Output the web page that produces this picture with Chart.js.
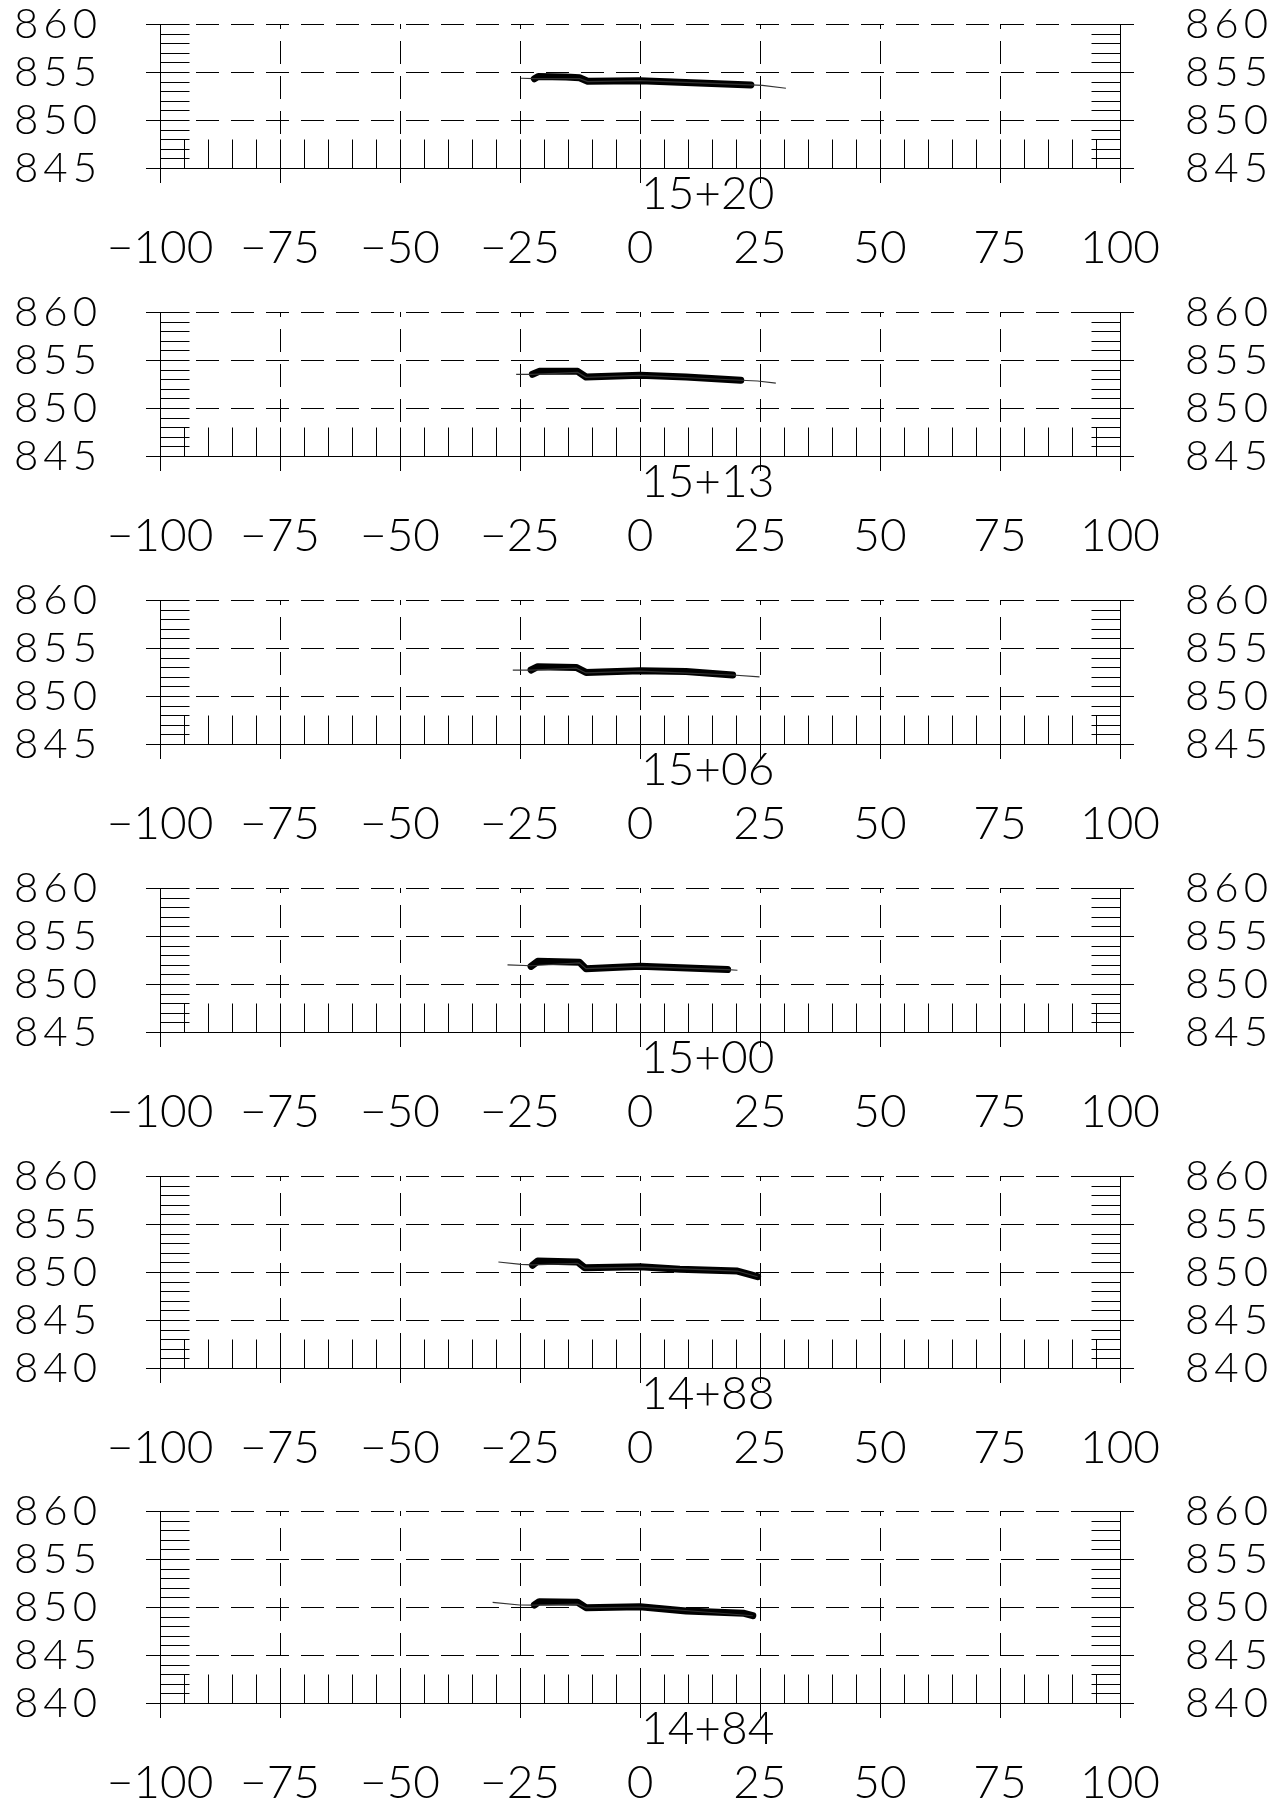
<!DOCTYPE html>
<html>
<head>
<meta charset="utf-8">
<script src="https://cdn.jsdelivr.net/npm/chart.js@4.4.1/dist/chart.umd.min.js"></script>
<style>
  html, body { margin: 0; padding: 0; background: #fff; }
  body { width: 1267px; height: 1813px; position: relative; overflow: hidden; }
  canvas { position: absolute; left: 0; }
</style>
</head>
<body>
<script>
// cross sections, offset (x) vs elevation (y)
const stations = ['15+20', '15+13', '15+06', '15+00', '14+88', '14+84'];
const elevMin = [845, 845, 845, 845, 840, 840];
const elevMax = 860;

// design surface (thick line)
const off1520 = [-22.0, -21.2, -15.4, -12.6, -10.9, 0, 23.1];
const des1520 = [854.3, 854.53, 854.47, 854.4, 854.03, 854.1, 853.65];
const off1513 = [-22.4, -21.0, -13.0, -11.25, 0, 9.6, 21.0];
const des1513 = [853.51, 853.82, 853.82, 853.23, 853.41, 853.23, 852.89];
const off1506 = [-22.7, -21.3, -13.3, -11.25, 0, 9.6, 19.3];
const des1506 = [852.71, 853.05, 852.98, 852.46, 852.64, 852.56, 852.19];
const off1500 = [-22.7, -21.3, -12.6, -11.25, 0, 18.25];
const des1500 = [851.84, 852.36, 852.26, 851.6, 851.84, 851.5];
const off1488 = [-22.4, -21.3, -13.0, -11.5, 0, 8.3, 20.3, 24.5];
const des1488 = [850.7, 851.15, 851.04, 850.45, 850.55, 850.28, 850.1, 849.51];
const off1484 = [-22.0, -21.0, -13.0, -11.25, 0, 9.6, 21.7, 23.5];
const des1484 = [850.21, 850.55, 850.49, 849.93, 850.03, 849.58, 849.34, 849.09];

// existing ground (thin line)
const gOff1520 = [-24.8, -22, -12.6, -10.9, 0, 23.1, 25.5, 30.4];
const gnd1520 = [854.35, 854.3, 854.3, 854.0, 854.1, 853.66, 853.6, 853.31];
const gOff1513 = [-25.8, -22.4, -13, -11.25, 0, 21.0, 24.5, 28.3];
const gnd1513 = [853.5, 853.5, 853.7, 853.2, 853.4, 852.89, 852.81, 852.6];
const gOff1506 = [-26.5, -22.7, -13.3, -11.25, 0, 19.3, 24.9];
const gnd1506 = [852.7, 852.7, 852.9, 852.4, 852.6, 852.19, 852.0];
const gOff1500 = [-27.6, -22.7, -12.6, -11.25, 0, 18.25, 20.3];
const gnd1500 = [852.0, 851.9, 852.2, 851.6, 851.8, 851.5, 851.43];
const gOff1488 = [-29.5, -24.8, -22.4, -13, -11.5, 0, 20.3, 24.5];
const gnd1488 = [851.04, 850.8, 850.75, 850.9, 850.4, 850.5, 850.1, 849.51];
const gOff1484 = [-30.7, -25.1, -22, -13, -11.25, 0, 23.5];
const gnd1484 = [850.49, 850.21, 850.2, 850.3, 849.9, 850.0, 849.09];

const designX = [off1520, off1513, off1506, off1500, off1488, off1484];
const designY = [des1520, des1513, des1506, des1500, des1488, des1484];
const groundX = [gOff1520, gOff1513, gOff1506, gOff1500, gOff1488, gOff1484];
const groundY = [gnd1520, gnd1513, gnd1506, gnd1500, gnd1488, gnd1484];

const canvasTop = [0, 288, 576, 864, 1152, 1487];
const canvasH = [288, 288, 288, 288, 336, 326];
const PAD_TOP = 24;
const UNIT_Y = 9.6;

const FONT = 'Lato';
const xFont = { family: FONT, size: 46, weight: 300 };
const yFont = { family: FONT, size: 42, weight: 300 };

// elevation axis with the wide CAD letter spacing
class SpacedLinearScale extends Chart.LinearScale {
  drawLabels(area) {
    this.ctx.save();
    this.ctx.letterSpacing = '5px';
    super.drawLabels(area);
    this.ctx.restore();
  }
}
SpacedLinearScale.id = 'spacedLinear';
SpacedLinearScale.defaults = Chart.LinearScale.defaults;
Chart.register(SpacedLinearScale);

function pts(xs, ys) {
  return xs.map((x, i) => ({ x: x, y: ys[i] }));
}

function fmtMinus(v) {
  return v < 0 ? '\u2212' + Math.abs(v) : String(v);
}

// CAD style combs along the frame + station name
const cadFrame = {
  id: 'cadFrame',
  beforeDatasetsDraw(chart) {
    const ctx = chart.ctx;
    const xs = chart.scales.x, ys = chart.scales.y;
    const lo = ys.min, hi = ys.max;
    const px = v => Math.round(xs.getPixelForValue(v)) + 0.5;
    const py = v => Math.round(ys.getPixelForValue(v)) + 0.5;
    ctx.save();
    ctx.strokeStyle = '#000';
    ctx.lineWidth = 1;
    ctx.beginPath();
    for (let e = lo; e <= hi; e++) {
      ctx.moveTo(px(-100), py(e)); ctx.lineTo(px(-94), py(e));
      ctx.moveTo(px(94), py(e)); ctx.lineTo(px(100), py(e));
    }
    for (let o = -100; o <= 100; o += 5) {
      ctx.moveTo(px(o), py(lo)); ctx.lineTo(px(o), py(lo + 3));
    }
    ctx.stroke();
    ctx.restore();
  },
  afterDraw(chart, args, opts) {
    const ctx = chart.ctx;
    const xs = chart.scales.x;
    ctx.save();
    ctx.fillStyle = '#000';
    ctx.font = xFont.weight + ' ' + xFont.size + 'px ' + FONT;
    ctx.textAlign = 'left';
    ctx.textBaseline = 'alphabetic';
    ctx.fillText(opts.station, xs.getPixelForValue(0) + 1, chart.chartArea.bottom + 41);
    ctx.restore();
  }
};

stations.forEach((st, i) => {
  const cv = document.createElement('canvas');
  cv.width = 1267;
  cv.height = canvasH[i];
  cv.style.top = canvasTop[i] + 'px';
  document.body.appendChild(cv);

  const areaH = (elevMax - elevMin[i]) * UNIT_Y;
  const xAxisH = canvasH[i] - PAD_TOP - areaH;

  const yAxis = (pos, width, grid) => ({
    type: 'spacedLinear',
    position: pos,
    min: elevMin[i],
    max: elevMax,
    ticks: { stepSize: 5, autoSkip: false, color: '#000', font: yFont, padding: pos === 'left' ? 44 : 51 },
    grid: Object.assign({ color: '#000', lineWidth: 1, tickLength: 14, tickColor: '#000' }, grid),
    border: { display: true, color: '#000', width: 1, dash: [23, 12] },
    afterFit(s) {
      s.width = width;
      s.paddingTop = 0;
      s.paddingBottom = 0;
    }
  });

  new Chart(cv, {
    type: 'scatter',
    data: {
      datasets: [
        {
          label: 'existing',
          data: pts(groundX[i], groundY[i]),
          showLine: true,
          borderColor: '#333',
          borderWidth: 1.2,
          pointRadius: 0,
          tension: 0
        },
        {
          label: 'design',
          data: pts(designX[i], designY[i]),
          showLine: true,
          borderColor: '#000',
          borderWidth: 7,
          borderCapStyle: 'round',
          borderJoinStyle: 'round',
          pointRadius: 0,
          tension: 0
        }
      ]
    },
    options: {
      responsive: false,
      animation: false,
      events: [],
      layout: { padding: { top: PAD_TOP, left: 0, right: 0, bottom: 0 } },
      plugins: {
        legend: { display: false },
        tooltip: { enabled: false },
        cadFrame: { station: st }
      },
      scales: {
        x: {
          type: 'linear',
          position: 'bottom',
          min: -100,
          max: 100,
          ticks: { stepSize: 25, autoSkip: false, maxRotation: 0, color: '#000', font: xFont, padding: 38, callback: fmtMinus },
          grid: { color: '#000', lineWidth: 1, tickLength: 15, tickColor: '#000' },
          border: { display: true, color: '#000', width: 1, dash: [23, 12], dashOffset: 18 },
          afterFit(s) {
            s.height = xAxisH;
            s.paddingLeft = 0;
            s.paddingRight = 0;
          }
        },
        y: yAxis('left', 160, {}),
        y2: yAxis('right', 147, { drawOnChartArea: false })
      }
    },
    plugins: [cadFrame]
  });
});
</script>
</body>
</html>
